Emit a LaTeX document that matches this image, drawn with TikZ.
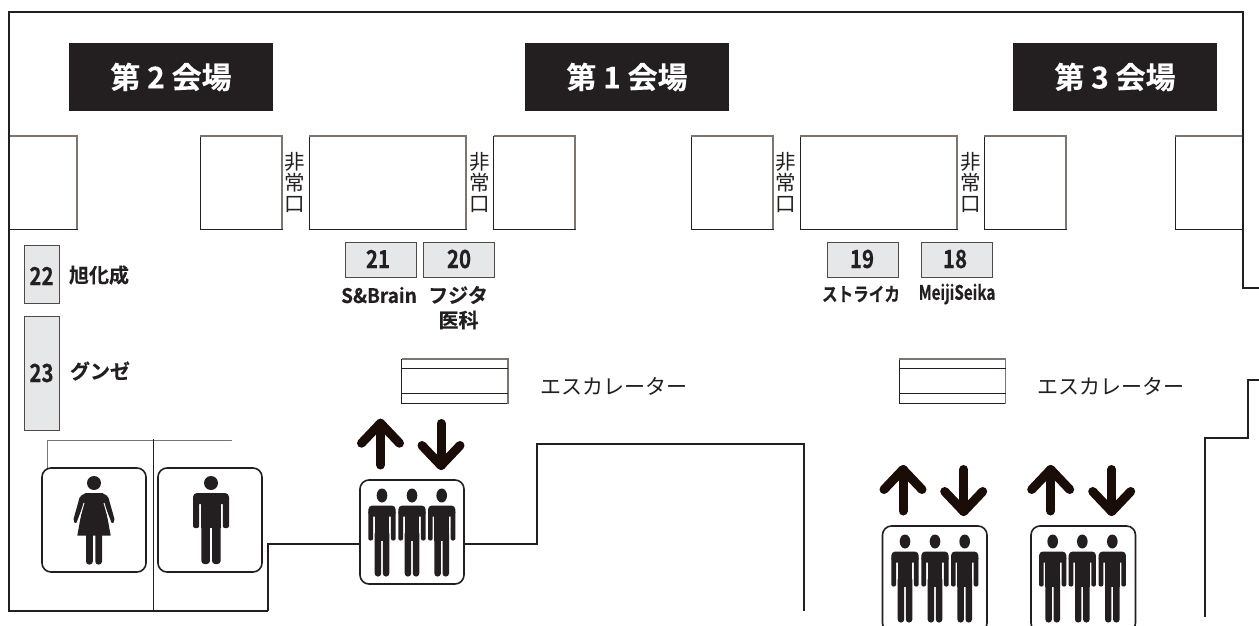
\documentclass[tikz,border=0pt]{standalone}
\usepackage{fontspec}
\usepackage{graphicx}
\setmainfont{Noto Sans CJK JP}
\newfontfamily\heavy{Noto Sans CJK JP Bold}[FakeBold=0.25]
\newcommand{\fs}[1]{\fontsize{#1}{#1}\selectfont}
\newcommand{\numtext}[1]{\scalebox{.82}[1]{#1}}
\definecolor{ink}{HTML}{231F20}
\definecolor{arrowink}{HTML}{1A0D08}
\definecolor{edgegray}{HTML}{7D7570}
\definecolor{stallline}{HTML}{4F4A47}
\definecolor{stallfill}{HTML}{E6E7E8}
\tikzset{
  wall/.style={draw=ink,line width=2.4pt,line join=miter},
  room/.style={draw=ink,line width=1pt,fill=white},
  roomedge/.style={draw=edgegray,line width=1.3pt},
  stall/.style={draw=stallline,line width=1pt,fill=stallfill},
  stallnum/.style={text=ink,font=\fs{25}\heavy,inner sep=0pt},
  label/.style={text=ink,font=\fs{20}\heavy,inner sep=0pt,align=center},
  header/.style={fill=ink,text=white,font=\fs{30}\heavy,inner sep=0pt,minimum width=204pt,minimum height=68pt},
  exit/.style={text=ink,font=\fontsize{20.5}{21}\selectfont,inner sep=0pt,align=center},
  esc/.style={text=ink,font=\fs{21},inner sep=0pt},
  iconbox/.style={draw=ink,line width=1.6pt,fill=white,rounded corners=9pt},
  lift/.style={draw=arrowink,line width=9pt,line cap=round,line join=round},
  man/.pic={
    \fill[ink] (0,-10) circle [x radius=7,y radius=7];
    \fill[ink,rounded corners=4pt] (-18,11)--(-18,0)--(18,0)--(18,11)--cycle;
    \fill[ink,rounded corners=2pt] (-18,5) rectangle (-11.8,35);
    \fill[ink,rounded corners=2pt] (11.8,5) rectangle (18,35);
    \fill[ink] (-9.6,2) rectangle (9.6,35);
    \fill[ink,rounded corners=3pt] (-9.6,25) rectangle (-1.1,71);
    \fill[ink,rounded corners=3pt] (1.1,25) rectangle (9.6,71);
  }
}
\newcommand{\roomrect}[4]{%
  \draw[room] (#1,#2) rectangle (#3,#4);
  \draw[roomedge] (#1,#2) -- (#3,#2) -- (#3,#4);}
\newcommand{\upar}[3]{\draw[lift] (#1,#3) -- (#1,#2+4.5);\draw[lift] (#1-19,#2+24.5) -- (#1,#2+4.5) -- (#1+19,#2+24.5);}
\newcommand{\downar}[3]{\draw[lift] (#1,#2+4.5) -- (#1,#3-4.5);\draw[lift] (#1-19,#3-24.5) -- (#1,#3-4.5) -- (#1+19,#3-24.5);}
\begin{document}
\begin{tikzpicture}[x=1pt,y=-1pt]
\clip (0,0) rectangle (1259,626);
\fill[white] (0,0) rectangle (1259,626);
% headers
\node[header] (h2) at (171,77) {\raisebox{-1.5pt}{第 2 会場}};
\node[header] (h1) at (627,77) {\raisebox{-1.5pt}{第 1 会場}};
\node[header] (h3) at (1115,77) {\raisebox{-1.5pt}{第 3 会場}};
% rooms
\roomrect{9}{136}{77}{229}
\roomrect{200}{136}{282}{229}
\roomrect{309}{136}{466}{229}
\roomrect{493.5}{136}{575}{229}
\roomrect{691}{136}{773}{229}
\roomrect{800}{136}{957}{229}
\roomrect{984}{136}{1066}{229}
\roomrect{1175}{136}{1243}{229}
% outer walls
\draw[wall] (268,611) -- (9,611) -- (9,12) -- (1243,12) -- (1243,288) -- (1259,288);
\draw[wall] (1259,380) -- (1248,380) -- (1248,438) -- (1205,438) -- (1205,617);
\draw[wall] (268,611) -- (268,544) -- (360,544);
\draw[wall] (464,544) -- (537,544) -- (537,444) -- (804,444) -- (804,611);
% exits
\node[exit] (e1) at (295,183) {非\\常\\口};
\node[exit] (e2) at (480,183) {非\\常\\口};
\node[exit] (e3) at (786,183) {非\\常\\口};
\node[exit] (e4) at (971,183) {非\\常\\口};
% stalls
\draw[stall] (345,242) rectangle (416,277);
\node[stallnum] (s21) at (378,259) {\numtext{21}};
\draw[stall] (423,242) rectangle (494.5,277);
\node[stallnum] (s20) at (459,259) {\numtext{20}};
\draw[stall] (827,242) rectangle (898,277);
\node[stallnum] (s19) at (862,259) {\numtext{19}};
\draw[stall] (921,242) rectangle (992,277);
\node[stallnum] (s18) at (955,259) {\numtext{18}};
\draw[stall] (24,245) rectangle (59.5,303);
\node[stallnum] (s22) at (41.5,276) {\numtext{22}};
\draw[stall] (24,316) rectangle (59.5,430);
\node[stallnum] (s23) at (41.5,373) {\numtext{23}};
% labels
\node[label] (l22) at (99,275) {旭化成};
\node[label] (l23) at (100,371) {グンゼ};
\node[label] (l21) at (379,295) {\scalebox{.95}[1]{S\&Brain}};
\node[label] (l20a) at (458,295) {フジタ};
\node[label] (l20b) at (458.5,320) {医科};
\node[label] (l19) at (861,294) {\scalebox{.78}[.95]{ストライカ}};
\node[label] (l18) at (957,294) {\scalebox{.76}[1]{MeijiSeika}};
% escalators
\foreach \ex in {401.5,899}{
  \roomrect{\ex}{359}{\ex+106.5}{403.5}
  \draw[ink,line width=.9pt] (\ex,368) -- (\ex+106.5,368);
  \draw[ink,line width=.9pt] (\ex,393) -- (\ex+106.5,393);
}
\node[esc] (ea) at (614,386) {エスカレーター};
\node[esc] (eb) at (1111,386) {エスカレーター};
% restroom lines
\draw[edgegray,line width=1pt] (47.5,471) -- (47.5,440) -- (232,440);
\draw[ink,line width=.8pt] (153.5,439) -- (153.5,611);
% icons
\draw[iconbox] (42,468) rectangle (146,572);
\draw[iconbox] (158,468) rectangle (262,572);
\draw[iconbox] (360,480) rectangle (464,584);
\draw[iconbox] (882.5,526) rectangle (987,632);
\draw[iconbox] (1031,526) rectangle (1135.5,632);
% woman
\fill[ink] (94,483) circle [radius=7];
\fill[ink,rounded corners=2pt] (86,493) -- (80,496) -- (73,521) -- (76,524) -- (84,503) -- (104,503) -- (112,524) -- (115,521) -- (108,496) -- (102,493) -- cycle;
\fill[ink] (85,493) -- (103,493) -- (110.7,535.7) -- (77.3,535.7) -- cycle;
\draw[white,line width=.9pt] (84,503) -- (78.5,522);
\draw[white,line width=.9pt] (104,503) -- (109.5,522);
\fill[ink,rounded corners=3pt] (86,530) rectangle (92.8,564.5);
\fill[ink,rounded corners=3pt] (95.3,530) rectangle (102,564.5);
% men
\pic at (211,493) {man};
\foreach \mx in {382,412,441.7} \pic[xscale=.76] at (\mx,505.5) {man};
\foreach \mx in {905,935,964.7} \pic[xscale=.76] at (\mx,551.5) {man};
\foreach \mx in {1052.7,1082.3,1112.3} \pic[xscale=.76] at (\mx,551.5) {man};
% lift arrows
\upar{380.5}{418.7}{465}
\downar{441}{419}{470}
\upar{903}{465}{511}
\downar{963.7}{465}{516}
\upar{1050.7}{465}{511}
\downar{1111.7}{465}{516}
\end{tikzpicture}
\end{document}
